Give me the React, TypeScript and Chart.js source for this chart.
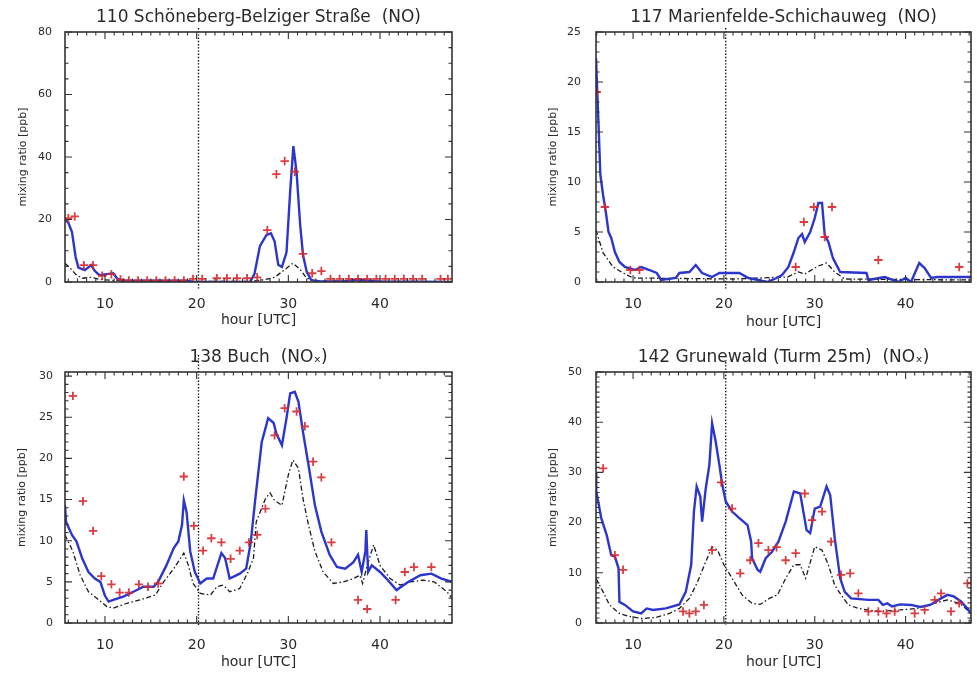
import { useEffect, useRef } from "react";
import { Chart, registerables } from "chart.js";

Chart.register(...registerables);

// ---- 110 Schöneberg-Belziger Straße (NO) ----
const p1ModelX = [5.64, 6.0, 6.4, 6.8, 7.1, 7.8, 8.5, 8.9, 9.4, 10.4, 10.9, 11.3, 11.8, 15.0, 19.0, 19.6, 20.0, 25.8, 26.3, 26.9, 27.6, 28.1, 28.5, 28.9, 29.3, 29.8, 30.2, 30.55, 30.9, 31.3, 31.6, 32.0, 32.5, 33.5, 36.0, 37.5, 38.5, 40.0, 44.0, 47.85];
const p1ModelY = [20, 19, 16, 8, 4.6, 3.8, 5.4, 3.5, 2.2, 2.6, 2.8, 1.2, 0.5, 0.4, 0.4, 0.1, 0, 0, 2.5, 11.5, 15, 15.6, 13, 5.5, 4.8, 9.5, 29, 43.5, 35, 18, 8.6, 3.3, 0.6, 0.2, 0.2, 0.8, 0.5, 0.2, 0.1, 0];
const p1AltX = [5.64, 6.2, 6.8, 7.5, 8.5, 9.5, 11, 20, 26, 27.5, 28.5, 29.4, 30.5, 31.3, 32, 33, 47.85];
const p1AltY = [6, 4.5, 2.5, 1.2, 1.5, 0.8, 0.5, 0.2, 0.2, 0.8, 1.5, 3.5, 6, 4, 1.2, 0.3, 0.1];
const p1ObsX = [6.0, 6.7, 7.7, 8.7, 9.7, 10.7, 11.7, 12.6, 13.6, 14.6, 15.6, 16.6, 17.6, 18.6, 19.6, 20.6, 22.2, 23.3, 24.4, 25.5, 26.6, 27.7, 28.7, 29.6, 30.7, 31.6, 32.6, 33.6, 34.6, 35.6, 36.6, 37.6, 38.6, 39.6, 40.6, 41.6, 42.6, 43.6, 44.6, 46.6, 47.4];
const p1ObsY = [20.4, 21, 5.4, 5.4, 2, 2.5, 0.8, 0.5, 0.5, 0.5, 0.5, 0.5, 0.5, 0.5, 1, 1, 1.2, 1.2, 1.2, 1.2, 1.5, 16.6, 34.5, 38.7, 35.3, 9, 2.8, 3.5, 1, 1, 1, 1, 1, 1, 1, 1, 1, 1, 1, 1, 1];

// ---- 117 Marienfelde-Schichauweg (NO) ----
const p2ModelX = [5.92, 6.2, 6.4, 6.7, 7.0, 7.3, 7.6, 8.0, 8.5, 9.1, 10.2, 10.9, 11.8, 12.6, 13.1, 14.7, 15.1, 16.2, 16.9, 17.6, 18.7, 19.5, 21.7, 22.7, 24.8, 25.8, 26.4, 27.1, 27.7, 28.2, 28.6, 28.9, 29.5, 30.0, 30.4, 30.8, 31.1, 31.5, 32.0, 32.8, 35.7, 35.9, 37.7, 39.2, 40.0, 40.6, 41.5, 42.1, 42.8, 43.5, 47.2];
const p2ModelY = [22.4, 15.7, 10.7, 8.7, 7, 5, 4.4, 3, 2, 1.5, 1.2, 1.5, 1.2, 0.9, 0.2, 0.4, 0.9, 1, 1.7, 0.9, 0.5, 0.9, 0.9, 0.4, 0, 0.4, 0.7, 1.5, 3, 4.4, 4.8, 4, 5, 6.4, 7.9, 7.9, 4.7, 4, 2.4, 1, 0.9, 0.2, 0.5, 0, 0.4, 0, 1.9, 1.4, 0.4, 0.5, 0.5];
const p2AltX = [5.92, 6.7, 7.8, 8.9, 10, 21, 27, 28.2, 28.9, 30.4, 31.3, 32.2, 33.3, 47.2];
const p2AltY = [5.2, 2.9, 1.5, 0.9, 0.4, 0.3, 0.5, 1, 0.8, 1.6, 1.9, 1, 0.3, 0.2];
const p2ObsX = [6.0, 6.9, 9.7, 10.7, 27.9, 28.8, 29.9, 31.1, 31.9, 37.0, 45.9];
const p2ObsY = [19, 7.5, 1.2, 1.2, 1.5, 6, 7.5, 4.5, 7.5, 2.2, 1.5];

// ---- 138 Buch (NOx) ----
const p3ModelX = [5.64, 5.75, 6.4, 6.9, 7.5, 8.2, 8.9, 9.5, 10.0, 10.4, 10.9, 12.0, 13.1, 14.2, 15.3, 15.8, 16.7, 17.5, 18.0, 18.4, 18.6, 18.9, 19.3, 19.8, 20.4, 21.1, 21.8, 22.7, 23.1, 23.6, 24.7, 25.4, 25.9, 26.4, 27.1, 27.8, 28.4, 28.7, 29.3, 29.8, 30.2, 30.7, 31.1, 31.6, 32.2, 32.9, 33.6, 34.5, 35.3, 36.2, 37.1, 37.6, 38.0, 38.4, 38.5, 38.7, 39.1, 40.0, 40.7, 41.8, 43.1, 44.4, 45.6, 46.7, 47.85];
const p3ModelY = [14.3, 12.3, 10.7, 9.9, 7.9, 6.2, 5.4, 5.0, 3.3, 2.6, 2.8, 3.2, 3.8, 4.4, 4.4, 5.0, 7.0, 9.1, 9.9, 11.9, 14.9, 13.5, 8.7, 6.2, 4.8, 5.4, 5.4, 8.5, 7.9, 5.4, 6.0, 6.6, 9.8, 15.1, 22, 24.9, 24.3, 23, 21.6, 24.9, 27.9, 28.1, 26.9, 23.2, 19.2, 14.3, 11.1, 8.3, 6.8, 6.6, 7.4, 8.3, 6.2, 8.7, 11.3, 6.2, 7.0, 6.2, 5.4, 4.0, 5.0, 5.8, 6.0, 5.4, 5.0];
const p3AltX = [5.64, 6.5, 7.3, 8.2, 9.1, 10.2, 10.9, 12.4, 13.8, 15.5, 16.4, 17.5, 18.6, 19.1, 19.6, 20.4, 21.5, 22.2, 22.9, 23.6, 24.7, 25.6, 26.2, 26.5, 27.5, 28.0, 28.5, 29.3, 30.0, 30.5, 31.1, 31.6, 32.2, 32.9, 33.8, 34.9, 36.0, 37.1, 37.8, 38.1, 38.6, 39.3, 40.0, 41.1, 42.2, 43.3, 44.7, 45.9, 47.3, 47.85];
const p3AltY = [10.7, 8.7, 5.8, 3.8, 3.0, 2.0, 1.8, 2.4, 2.8, 3.4, 5.0, 6.6, 8.5, 7.0, 4.8, 3.6, 3.4, 4.4, 4.6, 3.8, 4.2, 6.2, 7.9, 12.3, 15.1, 15.8, 14.9, 14.3, 18.0, 19.8, 18.8, 15.1, 11.9, 8.7, 6.2, 4.8, 5.0, 5.4, 5.8, 4.8, 7, 9.5, 7.0, 5.4, 4.6, 5.0, 5.2, 5.0, 3.8, 3.0];
const p3ObsX = [6.5, 7.6, 8.7, 9.6, 10.7, 11.6, 12.6, 13.7, 14.7, 15.8, 18.6, 19.7, 20.7, 21.6, 22.7, 23.7, 24.7, 25.7, 26.6, 27.5, 28.5, 29.6, 30.9, 31.8, 32.7, 33.6, 34.7, 37.6, 38.6, 41.7, 42.7, 43.7, 45.6];
const p3ObsY = [27.6, 14.8, 11.2, 5.7, 4.7, 3.7, 3.7, 4.7, 4.4, 4.8, 17.8, 11.8, 8.8, 10.3, 9.8, 7.8, 8.8, 9.8, 10.7, 13.9, 22.8, 26.1, 25.7, 23.9, 19.6, 17.7, 9.8, 2.8, 1.7, 2.8, 6.2, 6.8, 6.8];

// ---- 142 Grunewald (Turm 25m) (NOx) ----
const p4ModelX = [5.92, 5.95, 6.5, 7.1, 7.6, 8.0, 8.4, 8.5, 9.1, 10.0, 10.9, 11.5, 12.2, 13.6, 15.1, 15.8, 16.4, 16.7, 17.0, 17.4, 17.6, 18.0, 18.4, 18.7, 19.1, 19.5, 19.8, 20.2, 20.9, 21.7, 22.6, 23.0, 23.1, 23.7, 24.0, 24.6, 25.3, 26.0, 26.8, 27.7, 28.4, 29.1, 29.5, 30.0, 30.6, 31.3, 31.7, 32.2, 32.8, 33.3, 34.0, 35.9, 37.0, 37.5, 38.0, 38.5, 39.4, 40.6, 41.6, 42.7, 43.9, 44.6, 45.3, 46.1, 46.8, 47.2];
const p4ModelY = [30.1, 26.2, 20.9, 17.5, 13.5, 13.2, 10.9, 4.2, 3.6, 2.3, 1.9, 2.9, 2.6, 2.9, 3.7, 6.2, 11.6, 22.2, 27.2, 25.2, 20.2, 26.8, 31.5, 39.8, 36.1, 31.5, 27.8, 24.2, 22.2, 20.9, 19.5, 16.2, 12.9, 10.6, 10.2, 12.9, 14.2, 16.2, 20.2, 26.2, 25.8, 18.5, 17.9, 22.8, 23.2, 27.2, 25.5, 16.9, 8.9, 6.2, 4.9, 4.6, 4.6, 3.6, 3.9, 3.3, 3.7, 3.6, 3.2, 3.6, 4.9, 5.6, 5.3, 4.3, 2.9, 1.9];
const p4AltX = [5.92, 6.7, 7.4, 8.5, 9.6, 11.0, 12.5, 14.0, 15.1, 16.2, 17.1, 18.0, 18.7, 19.3, 20.0, 20.9, 22.0, 23.1, 24.0, 25.0, 25.9, 26.8, 27.7, 28.4, 29.0, 30.0, 30.8, 31.5, 32.2, 32.9, 33.7, 34.8, 37.0, 39.4, 41.2, 43.1, 44.6, 46.0, 47.2];
const p4AltY = [8.9, 6.2, 3.6, 1.9, 1.3, 0.9, 1.1, 1.9, 2.9, 4.9, 8.2, 12.2, 15.2, 14.5, 11.6, 8.9, 5.6, 3.9, 3.7, 4.9, 5.6, 8.9, 11.6, 11.6, 8.9, 15.2, 14.5, 11.6, 7.5, 5.6, 3.6, 2.9, 2.3, 2.6, 2.9, 3.9, 4.6, 3.9, 1.9];
const p4ObsX = [6.7, 8.0, 8.9, 15.5, 16.2, 16.9, 17.8, 18.7, 19.7, 20.9, 21.8, 22.9, 23.8, 24.9, 25.8, 26.8, 27.9, 28.9, 29.7, 30.8, 31.8, 32.9, 33.9, 34.8, 35.9, 37.0, 37.9, 38.8, 41.0, 42.1, 43.2, 43.9, 45.0, 45.9, 46.8];
const p4ObsY = [30.8, 13.5, 10.6, 2.3, 1.9, 2.3, 3.6, 14.5, 28.0, 22.8, 9.9, 12.5, 15.9, 14.5, 15.1, 12.5, 13.9, 25.8, 20.5, 22.2, 16.2, 9.6, 9.9, 5.9, 2.3, 2.3, 1.9, 2.3, 1.9, 2.6, 4.6, 5.9, 2.3, 3.9, 7.9];

const xTitle = "hour [UTC]";
const yTitle = "mixing ratio [ppb]";
const dayBoundary = 20.2;

const FONT = "'DejaVu Sans', 'Liberation Sans', sans-serif";
const INK = "#2a2a2a";

const pairs = (xs: number[], ys: number[]) => xs.map((x, i) => ({ x, y: ys[i] }));

type PanelSpec = {
  title: string;
  left: number; top: number; w: number; h: number;
  plot: { l: number; t: number; r: number; b: number };
  xMin: number; xMax: number;
  yMax: number; yStep: number; yMinor: number;
  titleCenter: number; yTitleX: number; xTitleY: number;
  xTickPad: number; yTickPad: number;
  dotUp: number; dotDown: number;
  model: [number[], number[]]; alt: [number[], number[]]; obs: [number[], number[]];
};

const panels: PanelSpec[] = [
  {
    title: "110 Schöneberg-Belziger Straße  (NO)",
    left: 0, top: 0, w: 490, h: 337,
    plot: { l: 65, t: 32, r: 452, b: 282 },
    xMin: 5.64, xMax: 47.85, yMax: 80, yStep: 20, yMinor: 5,
    titleCenter: 17.5, yTitleX: 23, xTitleY: 320, xTickPad: 6, yTickPad: 5,
    dotUp: 4, dotDown: 8,
    model: [p1ModelX, p1ModelY], alt: [p1AltX, p1AltY], obs: [p1ObsX, p1ObsY],
  },
  {
    title: "117 Marienfelde-Schichauweg  (NO)",
    left: 490, top: 0, w: 487, h: 337,
    plot: { l: 106, t: 32, r: 484, b: 282 },
    xMin: 5.92, xMax: 47.2, yMax: 25, yStep: 5, yMinor: 1,
    titleCenter: 17.5, yTitleX: 63, xTitleY: 322, xTickPad: 6, yTickPad: 7,
    dotUp: 4, dotDown: 8,
    model: [p2ModelX, p2ModelY], alt: [p2AltX, p2AltY], obs: [p2ObsX, p2ObsY],
  },
  {
    title: "138 Buch  (NOₓ)",
    left: 0, top: 337, w: 490, h: 338,
    plot: { l: 65, t: 35, r: 452, b: 286 },
    xMin: 5.64, xMax: 47.85, yMax: 30.5, yStep: 5, yMinor: 1,
    titleCenter: 21, yTitleX: 22, xTitleY: 325.5, xTickPad: 6, yTickPad: 4,
    dotUp: 17, dotDown: 2,
    model: [p3ModelX, p3ModelY], alt: [p3AltX, p3AltY], obs: [p3ObsX, p3ObsY],
  },
  {
    title: "142 Grunewald (Turm 25m)  (NOₓ)",
    left: 490, top: 337, w: 487, h: 338,
    plot: { l: 106, t: 35, r: 484, b: 286 },
    xMin: 5.92, xMax: 47.2, yMax: 50, yStep: 10, yMinor: 1,
    titleCenter: 21, yTitleX: 63, xTitleY: 325.5, xTickPad: 6, yTickPad: 6,
    dotUp: 10, dotDown: 2,
    model: [p4ModelX, p4ModelY], alt: [p4AltX, p4AltY], obs: [p4ObsX, p4ObsY],
  },
];

// Box frame with inward major/minor ticks on all four sides, plus the dotted day marker.
const framePlugin = {
  id: "idlFrame",
  beforeDatasetsDraw(chart: any, _a: any, opts: any) {
    const { ctx, chartArea: a, scales } = chart;
    const px = scales.x.getPixelForValue(opts.dotX);
    ctx.save();
    ctx.strokeStyle = "#111";
    ctx.lineWidth = 1.4;
    ctx.setLineDash([1.4, 1.8]);
    ctx.beginPath();
    ctx.moveTo(px, a.top - opts.dotUp);
    ctx.lineTo(px, a.bottom + opts.dotDown);
    ctx.stroke();
    ctx.restore();
  },
  afterDatasetsDraw(chart: any, _a: any, opts: any) {
    const { ctx, chartArea: a, scales } = chart;
    const xs = scales.x, ys = scales.y;
    ctx.save();
    ctx.strokeStyle = "#333";
    ctx.lineWidth = 1.6;
    ctx.strokeRect(a.left, a.top, a.right - a.left, a.bottom - a.top);
    ctx.lineWidth = 1.1;
    ctx.beginPath();
    const major = 7, minor = 3.5;
    const xMaj = xs.ticks.map((t: any) => t.value);
    for (let v = Math.ceil(xs.min / opts.xMinor) * opts.xMinor; v <= xs.max; v += opts.xMinor) {
      const p = xs.getPixelForValue(v);
      const len = xMaj.some((m: number) => Math.abs(m - v) < 1e-6) ? major : minor;
      ctx.moveTo(p, a.bottom); ctx.lineTo(p, a.bottom - len);
      ctx.moveTo(p, a.top); ctx.lineTo(p, a.top + len);
    }
    const yMaj = ys.ticks.map((t: any) => t.value);
    for (let v = 0; v <= ys.max + 1e-6; v += opts.yMinor) {
      const p = ys.getPixelForValue(v);
      const len = yMaj.some((m: number) => Math.abs(m - v) < 1e-6) ? major : minor;
      ctx.moveTo(a.left, p); ctx.lineTo(a.left + len, p);
      ctx.moveTo(a.right, p); ctx.lineTo(a.right - len, p);
    }
    ctx.stroke();
    ctx.restore();
  },
};

function buildConfig(p: PanelSpec): any {
  const titleSize = 17;
  const titleLH = titleSize * 1.2;
  const padTop = p.titleCenter - titleLH / 2;
  const padBottom = p.plot.t - padTop - titleLH;
  const yTitleSize = 11;
  const xTitleSize = 14;
  return {
    type: "scatter",
    data: {
      datasets: [
        {
          label: "model",
          data: pairs(p.model[0], p.model[1]),
          showLine: true,
          borderColor: "#2c36cc",
          borderWidth: 2.4,
          pointRadius: 0,
          tension: 0,
          order: 2,
        },
        {
          label: "reference run",
          data: pairs(p.alt[0], p.alt[1]),
          showLine: true,
          borderColor: "#1a1a1a",
          borderWidth: 1.3,
          borderDash: [5, 2.5, 1.5, 2.5],
          pointRadius: 0,
          tension: 0,
          order: 3,
        },
        {
          label: "observed",
          data: pairs(p.obs[0], p.obs[1]),
          showLine: false,
          pointStyle: "cross",
          pointRadius: 4.2,
          pointBorderWidth: 1.8,
          borderColor: "rgba(214,40,46,0.9)",
          backgroundColor: "rgba(214,40,46,0.9)",
          order: 1,
        },
      ],
    },
    options: {
      animation: false,
      responsive: false,
      events: [],
      layout: { padding: { left: 0, right: p.w - p.plot.r, top: 0, bottom: 0 } },
      plugins: {
        legend: { display: false },
        tooltip: { enabled: false },
        title: {
          display: true,
          text: p.title,
          fullSize: false,
          color: INK,
          font: { family: FONT, size: titleSize, weight: "normal" },
          padding: { top: padTop, bottom: padBottom },
        },
        idlFrame: { dotX: dayBoundary, dotUp: p.dotUp, dotDown: p.dotDown, xMinor: 1, yMinor: p.yMinor },
      },
      scales: {
        x: {
          type: "linear",
          min: p.xMin,
          max: p.xMax,
          grid: { display: false },
          border: { display: false },
          ticks: {
            stepSize: 10,
            includeBounds: false,
            padding: p.xTickPad,
            color: INK,
            font: { family: FONT, size: 14 },
            maxRotation: 0,
          },
          title: {
            display: true,
            text: xTitle,
            color: INK,
            font: { family: FONT, size: xTitleSize },
            padding: { top: 0, bottom: p.h - p.xTitleY - (xTitleSize * 1.2) / 2 },
          },
          afterFit: (s: any) => { s.height = p.h - p.plot.b; },
        },
        y: {
          type: "linear",
          min: 0,
          max: p.yMax,
          grid: { display: false },
          border: { display: false },
          ticks: {
            stepSize: p.yStep,
            includeBounds: false,
            padding: p.yTickPad,
            color: INK,
            font: { family: FONT, size: 11 },
          },
          title: {
            display: true,
            text: yTitle,
            color: INK,
            font: { family: FONT, size: yTitleSize },
            padding: { top: p.yTitleX - (yTitleSize * 1.2) / 2, bottom: 0 },
          },
          afterFit: (s: any) => { s.width = p.plot.l; },
        },
      },
    },
    plugins: [framePlugin],
  };
}

function Panel({ p }: { p: PanelSpec }) {
  const ref = useRef<HTMLCanvasElement>(null);
  useEffect(() => {
    const chart = new Chart(ref.current as HTMLCanvasElement, buildConfig(p));
    return () => chart.destroy();
  }, [p]);
  return (
    <canvas
      ref={ref}
      width={p.w}
      height={p.h}
      style={{ position: "absolute", left: p.left, top: p.top, width: p.w, height: p.h }}
    />
  );
}

export default function App() {
  return (
    <div
      style={{
        position: "fixed",
        left: 0,
        top: 0,
        width: 977,
        height: 675,
        overflow: "hidden",
        background: "#fff",
      }}
    >
      {panels.map((p) => (
        <Panel key={p.title} p={p} />
      ))}
    </div>
  );
}
